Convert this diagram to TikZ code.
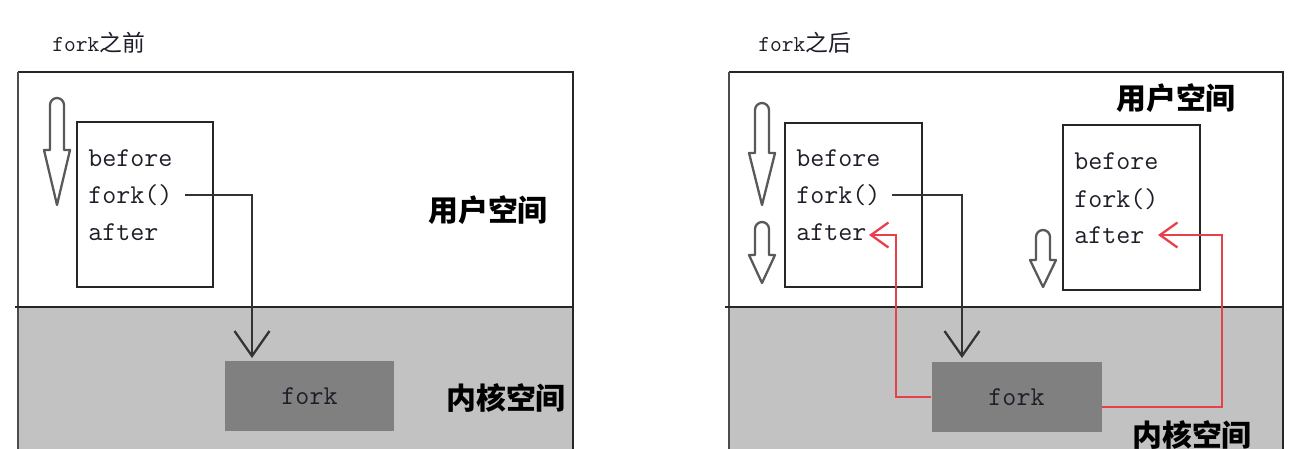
\documentclass[tikz,border=0pt]{standalone}
\usepackage{fontspec}
\usetikzlibrary{arrows.meta}
\newfontfamily\cjk{Noto Sans CJK SC}
\definecolor{kgray}{HTML}{C2C2C2}
\definecolor{kbox}{HTML}{808080}
\definecolor{redline}{HTML}{E8404A}
\definecolor{ink}{HTML}{1E1E28}
\tikzset{
  frameline/.style={draw=black!85, line width=1.5pt},
  thinline/.style={draw=black!70, line width=0.8pt},
  codebox/.style={draw=black!85, line width=1.5pt, fill=white},
  code/.style={font=\ttfamily\fontsize{15.5}{18}\selectfont, text=ink, inner sep=0pt, anchor=base west},
  title/.style={font=\fontsize{13}{15}\selectfont, text=ink, inner sep=0pt, anchor=base west},
  region/.style={font=\cjk\bfseries\fontsize{17}{19}\selectfont, text=black, inner sep=0pt},
  kernelbox/.style={fill=kbox, minimum width=3.4cm, minimum height=1.42cm, inner sep=0pt,
     font=\ttfamily\fontsize{15.5}{18}\selectfont, text=ink},
  conn/.style={draw=black!80, line width=1.3pt, -{Straight Barb[length=5mm,width=7mm,line width=1.3pt]}},
  redconn/.style={draw=redline, line width=1.3pt, -{Straight Barb[length=3.5mm,width=5mm,line width=1.3pt]}},
  harrow/.style={draw=black!65, line width=1.3pt, fill=white, line join=round},
}
\newcommand\hollowarrow[4]{%
  \draw[harrow] (#1-7,#3) -- (#1-7,#2+7) arc(180:360:7) -- (#1+7,#3) -- (#1+13,#3) -- (#1,#4) -- (#1-13,#3) -- cycle;}
\begin{document}
\begin{tikzpicture}[x=0.02cm, y=-0.02cm]
\useasboundingbox (0,0) rectangle (1300,449);
\fill[white] (0,0) rectangle (1300,449);

% ===== left panel: before fork =====
\node[title] (t1) at (52,52) {\ttfamily fork\cjk 之前};
\fill[kgray] (18,307) rectangle (573,449);
\draw[frameline] (18,72) -- (573,72) -- (573,449);
\draw[thinline] (18,72) -- (18,449);
\draw[frameline] (15,307) -- (573,307);

\draw[codebox] (77,122) rectangle (213,287);
\node[code] (b1) at (88,167) {before};
\node[code] (f1) at (88,203) {fork()};
\node[code] (a1) at (88,240) {after};
\hollowarrow{57}{98}{150}{205}

\node[region] (u1) at (488,210) {用户空间};
\node[region] (n1) at (506,398) {内核空间};
\node[kernelbox] (k1) at (309.5,396) {fork};

\coordinate (s1) at (185,195);
\coordinate (e1) at (252,358);
\draw[conn] (s1) -| (e1);

% ===== right panel: after fork =====
\node[title] (t2) at (758,52) {\ttfamily fork\cjk 之后};
\fill[kgray] (729,307) rectangle (1283,449);
\draw[frameline] (729,72) -- (1283,72) -- (1283,449);
\draw[thinline] (729,72) -- (729,449);
\draw[frameline] (725,307) -- (1283,307);

\draw[codebox] (785,123) rectangle (922,287);
\node[code] (b2) at (796,167) {before};
\node[code] (f2) at (796,203) {fork()};
\node[code] (a2) at (796,240) {after};

\draw[codebox] (1063,125) rectangle (1200,290);
\node[code] (b3) at (1074,170) {before};
\node[code] (f3) at (1074,207) {fork()};
\node[code] (a3) at (1074,243) {after};

\hollowarrow{762}{103}{153}{205}
\hollowarrow{762}{222}{255}{283}
\hollowarrow{1043}{230}{260}{287}

\node[region] (u2) at (1176,98) {用户空间};
\node[region] (n2) at (1192,435) {内核空间};
\node[kernelbox] (k2) at (1016.5,397) {fork};

\coordinate (s2) at (892,195);
\coordinate (e2) at (962,358);
\draw[conn] (s2) -| (e2);

\coordinate (c1) at (896,235);
\coordinate (r1) at (869,235);
\draw[redconn] (k2.west) -| (c1) -- (r1);

\coordinate (c2) at (1222,235);
\coordinate (r2) at (1158,235);
\draw[redconn] ([yshift=-0.2cm]k2.east) -| (c2) -- (r2);
\end{tikzpicture}
\end{document}
